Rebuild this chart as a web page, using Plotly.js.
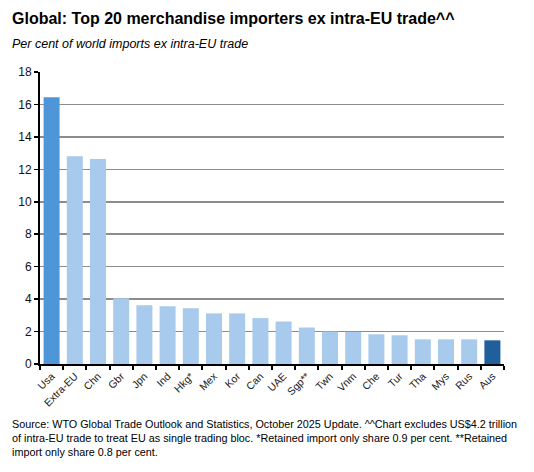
<!DOCTYPE html>
<html><head><meta charset="utf-8">
<script src="https://cdn.plot.ly/plotly-3.0.1.min.js"></script>
<style>html,body{margin:0;padding:0;background:#fff}#c{width:534px;height:472px}</style>
</head><body><div id="c"></div>
<script>
var categories = ["Usa","Extra-EU","Chn","Gbr","Jpn","Ind","Hkg*","Mex","Kor","Can","UAE","Sgp**","Twn","Vnm","Che","Tur","Tha","Mys","Rus","Aus"];
var values = [16.45,12.8,12.63,4.05,3.62,3.56,3.43,3.12,3.12,2.83,2.62,2.25,2.0,1.98,1.83,1.77,1.52,1.52,1.52,1.46];
var yTicks = [0,2,4,6,8,10,12,14,16,18];

var colors = categories.map(function(c){
  if (c === "Usa") return "#4F96D9";
  if (c === "Aus") return "#1F5F9C";
  return "#A8CAEC";
});

var trace = {
  type: "bar", x: categories, y: values,
  marker: {color: colors, line: {width: 0}},
  hoverinfo: "x+y"
};

var PW = 464, PH = 292;
var layout = {
  width: 534, height: 472,
  margin: {l: 40, r: 30, t: 72, b: 108},
  paper_bgcolor: "#fff", plot_bgcolor: "#fff",
  bargap: 0.31,
  showlegend: false,
  font: {family: "Liberation Sans, Arial, sans-serif", size: 12, color: "#000"},
  xaxis: {
    type: "category", tickangle: -45,
    tickfont: {size: 10.5, color: "#222"},
    showline: true, linecolor: "#000", linewidth: 2,
    ticks: "outside", ticklen: 4, tickcolor: "#000", tickwidth: 2,
    tickson: "boundaries", showgrid: false, zeroline: false
  },
  yaxis: {
    range: [0, 18], tickvals: yTicks, ticktext: yTicks.map(String),
    tickfont: {size: 12, color: "#111"},
    showline: true, linecolor: "#000", linewidth: 2,
    ticks: "outside", ticklen: 4, tickcolor: "#000", tickwidth: 1.5,
    showgrid: true, gridcolor: "#8c8c8c", gridwidth: 1.5, zeroline: false
  },
  annotations: [
    {xref: "paper", yref: "paper", x: -30/PW, xanchor: "left", y: 1 + (72-8)/PH, yanchor: "top",
     text: "<b>Global: Top 20 merchandise importers ex intra-EU trade^^</b>",
     font: {size: 16, color: "#000"}, showarrow: false, align: "left"},
    {xref: "paper", yref: "paper", x: -30/PW, xanchor: "left", y: 1 + (72-35)/PH, yanchor: "top",
     text: "<i>Per cent of world imports ex intra-EU trade</i>",
     font: {size: 12.5, color: "#000"}, showarrow: false, align: "left"},
    {xref: "paper", yref: "paper", x: -30/PW, xanchor: "left", y: -(416-364)/PH, yanchor: "top",
     text: "Source: WTO Global Trade Outlook and Statistics, October 2025 Update. ^^Chart excludes US$4.2 trillion<br>of intra-EU trade to treat EU as single trading bloc. *Retained import only share 0.9 per cent. **Retained<br>import only share 0.8 per cent.",
     font: {size: 10.8, color: "#000"}, showarrow: false, align: "left"}
  ]
};

Plotly.newPlot("c", [trace], layout, {displayModeBar: false, staticPlot: true});
</script></body></html>
